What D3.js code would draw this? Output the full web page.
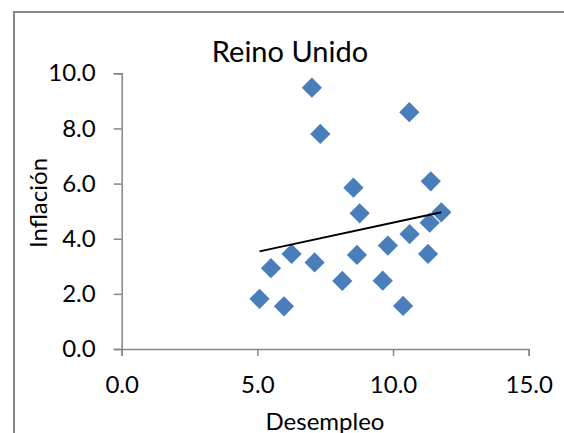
<!DOCTYPE html>
<html>
<head>
<meta charset="utf-8">
<script src="https://cdn.jsdelivr.net/npm/d3@7"></script>
<style>
  body { margin: 0; background: #fff; }
  svg text { font-family: Lato, "Open Sans", sans-serif; fill: #000; }
</style>
</head>
<body>
<svg id="chart" width="564" height="433"></svg>
<script>
// Desempleo (x) and Inflación (y)
const desempleo = [7.01, 7.32, 5.08, 5.98, 5.50, 6.26, 7.11, 8.13, 10.60, 8.54,
                   8.77, 8.67, 9.62, 9.81, 10.37, 10.61, 11.39, 11.29, 11.35, 11.78];
const inflacion = [9.48, 7.80, 1.82, 1.55, 2.93, 3.45, 3.14, 2.47, 8.59, 5.85,
                   4.92, 3.41, 2.48, 3.75, 1.56, 4.17, 6.08, 3.45, 4.58, 4.96];
const xTicks = [0, 5, 10, 15];
const yTicks = [0, 2, 4, 6, 8, 10];

const data = desempleo.map((d, i) => ({ x: d, y: inflacion[i] }));

const svg = d3.select('#chart');

// chart area border (runs off the right and bottom edge)
svg.append('rect')
   .attr('x', 14).attr('y', 12)
   .attr('width', 640).attr('height', 520)
   .style('fill', '#fff')
   .style('stroke', '#868686')
   .style('stroke-width', 2);

const x = d3.scaleLinear().domain([0, 15]).range([121.7, 528.7]);
const y = d3.scaleLinear().domain([0, 10]).range([349, 73.3]);

// x axis
const xAxis = svg.append('g')
   .attr('transform', `translate(0,${y(0)})`)
   .call(d3.axisBottom(x).tickValues(xTicks).tickFormat(d3.format('.1f')).tickSizeOuter(0).tickSize(7).tickPadding(20));

// y axis
const yAxis = svg.append('g')
   .attr('transform', `translate(${x(0)},0)`)
   .call(d3.axisLeft(y).tickValues(yTicks).tickFormat(d3.format('.1f')).tickSizeOuter(0).tickSize(8).tickPadding(18));

[xAxis, yAxis].forEach(g => {
  g.select('.domain').style('stroke', '#868686').style('stroke-width', 1.5);
  g.selectAll('.tick line').style('stroke', '#868686').style('stroke-width', 1.5);
  g.selectAll('.tick text').style('font-size', '24px').style('fill', '#000')
   .style('font-family', 'Lato, "Open Sans", sans-serif');
});
xAxis.selectAll('.tick text').attr('dy', '0.71em');

// points
svg.append('g')
   .selectAll('path')
   .data(data)
   .enter().append('path')
   .attr('transform', d => `translate(${x(d.x)},${y(d.y)}) rotate(45)`)
   .attr('d', d3.symbol().type(d3.symbolSquare).size(205))
   .style('fill', '#4a7ebb');

// linear trend line
const mx = d3.mean(data, d => d.x);
const my = d3.mean(data, d => d.y);
const slope = d3.sum(data, d => (d.x - mx) * (d.y - my)) / d3.sum(data, d => (d.x - mx) ** 2);
const x0 = d3.min(desempleo), x1 = d3.max(desempleo);
const trend = [[x0, my + slope * (x0 - mx)], [x1, my + slope * (x1 - mx)]];

svg.append('path')
   .datum(trend)
   .attr('d', d3.line().x(d => x(d[0])).y(d => y(d[1])))
   .style('fill', 'none')
   .style('stroke', '#000')
   .style('stroke-width', 2);

// title
svg.append('text')
   .attr('x', 290).attr('y', 62)
   .style('text-anchor', 'middle')
   .style('font-size', '29px')
   .text('Reino Unido');

// axis titles
svg.append('text')
   .attr('x', 325).attr('y', 430)
   .style('text-anchor', 'middle')
   .style('font-size', '24px')
   .text('Desempleo');

svg.append('text')
   .attr('transform', 'translate(47,203) rotate(-90)')
   .style('text-anchor', 'middle')
   .style('font-size', '24px')
   .text('Inflación');
</script>
</body>
</html>
